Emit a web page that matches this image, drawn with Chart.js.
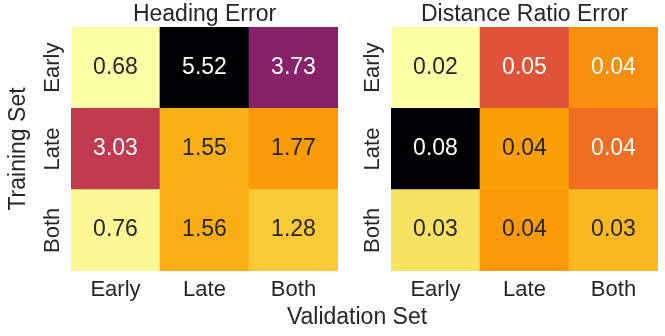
<!DOCTYPE html>
<html>
<head>
<meta charset="utf-8">
<script src="https://cdn.jsdelivr.net/npm/chart.js@4.4.1/dist/chart.umd.min.js"></script>
<style>
  html, body { margin: 0; padding: 0; background: #fff; }
  #wrap { position: relative; width: 665px; height: 336px; overflow: hidden; }
  #c1 { position: absolute; left: 0; top: 0; }
  #c2 { position: absolute; left: 345px; top: 0; }
  #xtitle {
    position: absolute; left: 257px; top: 305px; width: 200px;
    text-align: center; font: 23px/23px "Liberation Sans", Arial, sans-serif; color: #262626;
  }
</style>
</head>
<body>
<div id="wrap">
  <canvas id="c1" width="345" height="336"></canvas>
  <canvas id="c2" width="320" height="336"></canvas>
  <div id="xtitle">Validation Set</div>
</div>
<script>
// rows are the training set, columns the validation set (top row first)
const rowLabels = ['Early', 'Late', 'Both'];
const colLabels = ['Early', 'Late', 'Both'];

const headingError = [
  [0.68, 5.52, 3.73],
  [3.03, 1.55, 1.77],
  [0.76, 1.56, 1.28]
];

// the picture only shows two decimals
const distanceRatioError = [
  [0.024, 0.046, 0.038],
  [0.080, 0.036, 0.042],
  [0.028, 0.0365, 0.033]
];

const FONT = '"Liberation Sans", Arial, sans-serif';
const DARK = '#262626';

// inferno colormap stops
const inferno = [
  [0, '#000004'], [0.1, '#160b39'], [0.111, '#1b0c41'], [0.2, '#420a68'],
  [0.222, '#4a0c6b'], [0.3, '#6a176e'], [0.333, '#781c6d'], [0.4, '#932667'],
  [0.444, '#a52c60'], [0.5, '#bc3754'], [0.556, '#cf4446'], [0.6, '#dd513a'],
  [0.667, '#ed6925'], [0.7, '#f37819'], [0.778, '#fb9b06'], [0.8, '#fca50a'],
  [0.889, '#f7d13d'], [0.9, '#f6d746'], [1, '#fcffa4']
];

function hexToRgb(h) {
  return [1, 3, 5].map(i => parseInt(h.substr(i, 2), 16));
}

function infernoColor(t) {
  t = Math.max(0, Math.min(1, t));
  for (let i = 1; i < inferno.length; i++) {
    if (t <= inferno[i][0]) {
      const [t0, c0] = inferno[i - 1];
      const [t1, c1] = inferno[i];
      const f = (t - t0) / (t1 - t0);
      const a = hexToRgb(c0), b = hexToRgb(c1);
      return a.map((v, k) => Math.round(v + (b[k] - v) * f));
    }
  }
  return hexToRgb(inferno[inferno.length - 1][1]);
}

// same rule seaborn uses to pick annotation colour
function textColorFor(rgb) {
  const lin = rgb.map(v => {
    v = v / 255;
    return v <= 0.03928 ? v / 12.92 : Math.pow((v + 0.055) / 1.055, 2.4);
  });
  const lum = 0.2126 * lin[0] + 0.7152 * lin[1] + 0.0722 * lin[2];
  return lum > 0.408 ? DARK : '#ffffff';
}

function makeHeatmap(canvasId, values, title, yTitle, padLeft) {
  const flat = values.flat();
  const vmin = Math.min(...flat);
  const vmax = Math.max(...flat);

  // reversed colormap: low values light, high values dark
  const cellRgb = v => infernoColor(1 - (v - vmin) / (vmax - vmin));

  // bottom row first so the stack builds upward
  const datasets = rowLabels.map((name, r) => r).reverse().map(r => ({
    label: rowLabels[r],
    data: colLabels.map(() => 1),
    values: values[r],
    backgroundColor: values[r].map(v => 'rgb(' + cellRgb(v).join(',') + ')'),
    borderWidth: 0,
    barPercentage: 1,
    categoryPercentage: 1
  }));

  const labelPlugin = {
    id: 'heatLabels',
    afterDatasetsDraw(chart) {
      const ctx = chart.ctx;
      const area = chart.chartArea;
      const xs = chart.scales.x;
      const ys = chart.scales.y;
      ctx.save();

      // cell annotations
      ctx.font = '23px ' + FONT;
      ctx.textAlign = 'center';
      ctx.textBaseline = 'alphabetic';
      chart.data.datasets.forEach((ds, di) => {
        const meta = chart.getDatasetMeta(di);
        meta.data.forEach((bar, i) => {
          const v = ds.values[i];
          ctx.fillStyle = textColorFor(cellRgb(v));
          const cy = (bar.y + bar.base) / 2;
          ctx.fillText(v.toFixed(2), bar.x, cy + 6);
        });
      });

      // x tick labels
      ctx.font = '22px ' + FONT;
      ctx.fillStyle = DARK;
      colLabels.forEach((lab, i) => {
        ctx.fillText(lab, xs.getPixelForValue(i), area.bottom + 25);
      });

      // y tick labels, rotated
      rowLabels.forEach((lab, r) => {
        const y = ys.getPixelForValue(rowLabels.length - r - 0.5);
        ctx.save();
        ctx.translate(area.left - 12, y);
        ctx.rotate(-Math.PI / 2);
        ctx.fillText(lab, 0, 0);
        ctx.restore();
      });

      // titles
      ctx.font = '23px ' + FONT;
      ctx.fillText(title, (area.left + area.right) / 2, 21);
      if (yTitle) {
        ctx.save();
        ctx.translate(25, (area.top + area.bottom) / 2);
        ctx.rotate(-Math.PI / 2);
        ctx.fillText(yTitle, 0, 0);
        ctx.restore();
      }
      ctx.restore();
    }
  };

  return new Chart(document.getElementById(canvasId), {
    type: 'bar',
    data: { labels: colLabels, datasets: datasets },
    options: {
      responsive: false,
      animation: false,
      events: [],
      layout: { padding: { left: padLeft, right: 7, top: 27, bottom: 65 } },
      plugins: { legend: { display: false }, tooltip: { enabled: false } },
      scales: {
        x: { stacked: true, display: false },
        y: { stacked: true, display: false, min: 0, max: rowLabels.length }
      }
    },
    plugins: [labelPlugin]
  });
}

makeHeatmap('c1', headingError, 'Heading Error', 'Training Set', 71);
makeHeatmap('c2', distanceRatioError, 'Distance Ratio Error', null, 46);
</script>
</body>
</html>
